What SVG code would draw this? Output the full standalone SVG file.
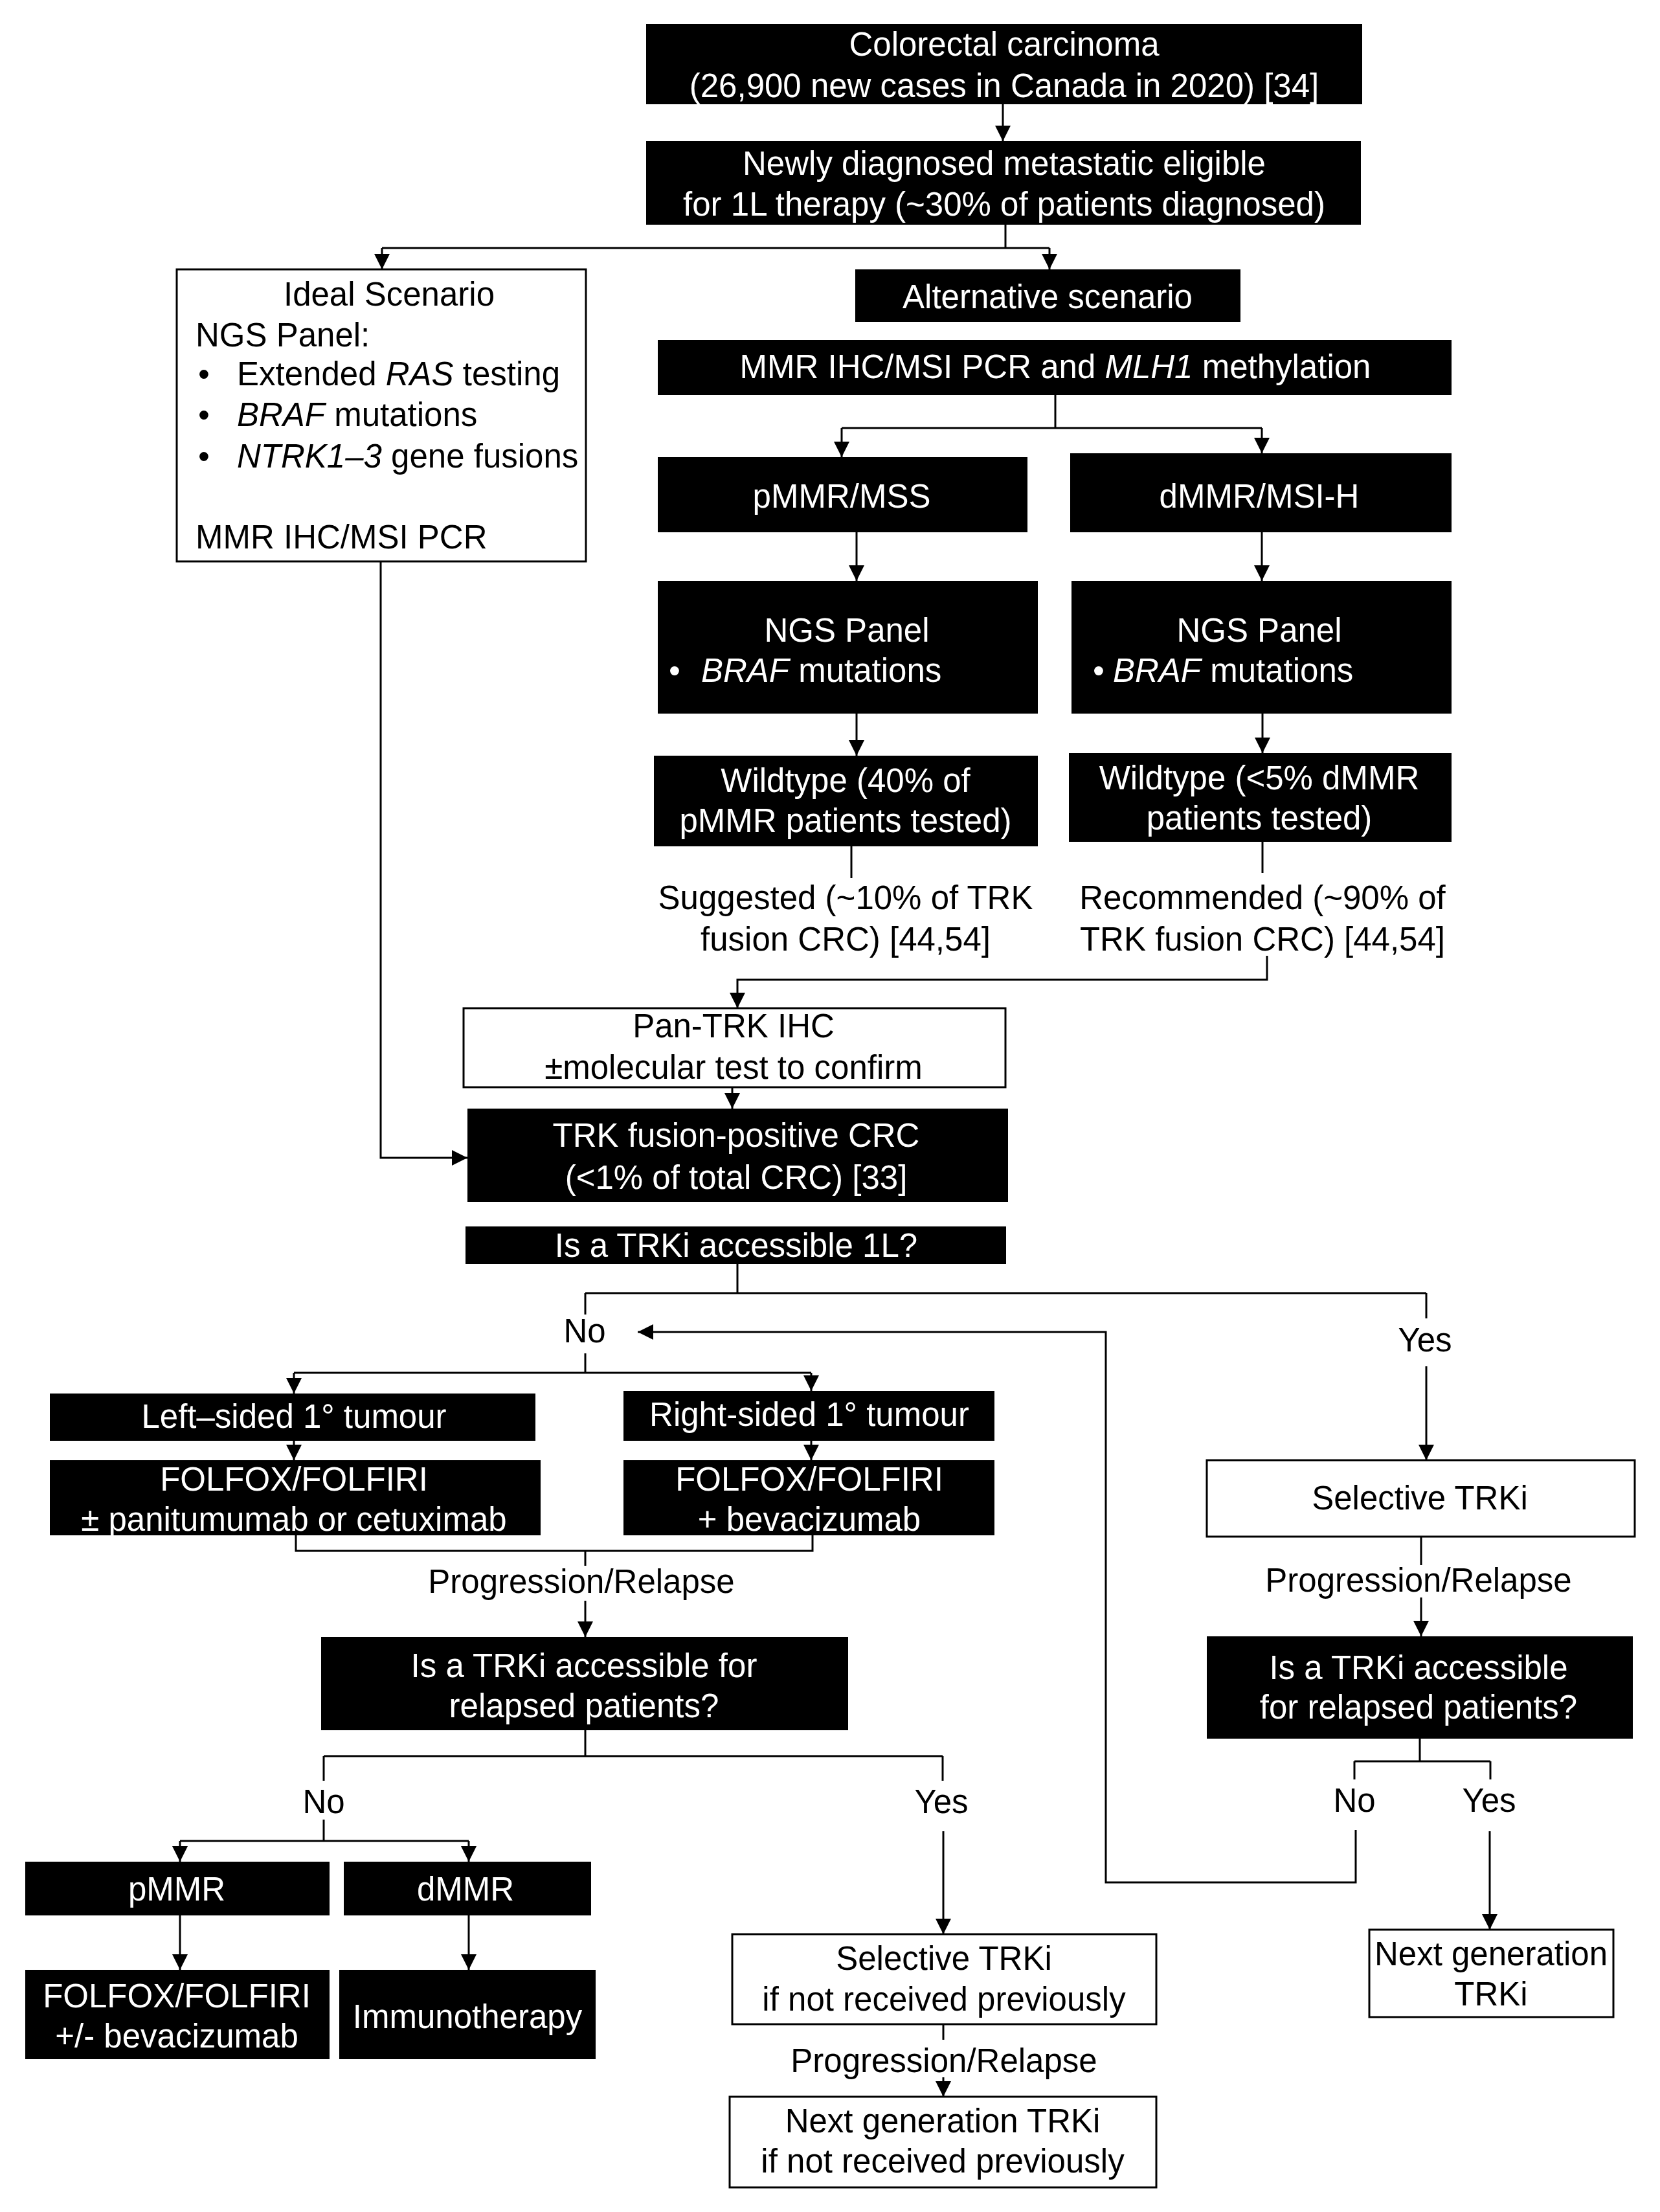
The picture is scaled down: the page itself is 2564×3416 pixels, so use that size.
<svg xmlns="http://www.w3.org/2000/svg" width="2564" height="3416" viewBox="0 0 2564 3416">
<style>
.b{fill:#000}
.w{fill:#fff;stroke:#000;stroke-width:3}
text{font-family:"Liberation Sans",Arial,sans-serif;font-size:51px}
.tw{fill:#fff;text-anchor:middle}
.tk{fill:#000;text-anchor:middle}
.tl{fill:#000;text-anchor:start}
.twl{fill:#fff;text-anchor:start}
.i{font-style:italic}
.c{fill:none;stroke:#000;stroke-width:3}
.a{fill:none;stroke:#000;stroke-width:3;marker-end:url(#ah)}
</style>
<defs>
<marker id="ah" viewBox="0 0 10 10" refX="10" refY="5" markerWidth="24" markerHeight="24" markerUnits="userSpaceOnUse" orient="auto"><path d="M0,0 L10,5 L0,10 z" fill="#000"/></marker>
</defs>
<rect width="2564" height="3416" fill="#fff"/>

<g id="connectors">
<path class="a" d="M1549,161 V218"/>
<path class="c" d="M1553,347 V383 M590,383 H1621"/>
<path class="a" d="M590,383 V416"/>
<path class="a" d="M1621,383 V416"/>
<path class="c" d="M1630,610 V661 M1300,661 H1949"/>
<path class="a" d="M1300,661 V706"/>
<path class="a" d="M1949,661 V700"/>
<path class="a" d="M1323,822 V897"/>
<path class="a" d="M1949,822 V897"/>
<path class="a" d="M1323,1102 V1167"/>
<path class="a" d="M1950,1102 V1163"/>
<path class="c" d="M1315,1307 V1356"/>
<path class="c" d="M1950,1300 V1348"/>
<path class="a" d="M1957,1476 V1513 H1139 V1557"/>
<path class="a" d="M1131,1679 V1712"/>
<path class="a" d="M588,867 V1788 H722"/>
<path class="c" d="M1139,1952 V1997 M904,1997 H2203 M904,1997 V2030 M2203,1997 V2036"/>
<path class="c" d="M904,2090 V2120 M454,2120 H1253"/>
<path class="a" d="M454,2120 V2152"/>
<path class="a" d="M1253,2120 V2148"/>
<path class="a" d="M454,2225 V2255"/>
<path class="a" d="M1253,2225 V2255"/>
<path class="c" d="M457,2371 V2395 H1255 V2371 M904,2395 V2418"/>
<path class="a" d="M904,2472 V2528"/>
<path class="c" d="M904,2672 V2712 M500,2712 H1456 M500,2712 V2750 M1456,2712 V2750"/>
<path class="c" d="M500,2810 V2843 M278,2843 H724"/>
<path class="a" d="M278,2843 V2875"/>
<path class="a" d="M724,2843 V2875"/>
<path class="a" d="M278,2958 V3042"/>
<path class="a" d="M724,2958 V3042"/>
<path class="a" d="M1457,2828 V2987"/>
<path class="c" d="M1457,3126 V3150"/>
<path class="a" d="M1457,3208 V3238"/>
<path class="a" d="M2203,2110 V2255"/>
<path class="c" d="M2195,2373 V2417"/>
<path class="a" d="M2195,2467 V2527"/>
<path class="c" d="M2193,2685 V2720 M2092,2720 H2302 M2092,2720 V2748 M2302,2720 V2748"/>
<path class="a" d="M2094,2826 V2907 H1708 V2057 H985"/>
<path class="a" d="M2301,2828 V2980"/>
</g>

<g id="n1"><rect class="b" x="998" y="37" width="1106" height="124"/>
<text class="tw" x="1551" y="86">Colorectal carcinoma</text>
<text class="tw" x="1551" y="150">(26,900 new cases in Canada in 2020) [34]</text></g>

<g id="n2"><rect class="b" x="998" y="218" width="1104" height="129"/>
<text class="tw" x="1551" y="270">Newly diagnosed metastatic eligible</text>
<text class="tw" x="1551" y="333">for 1L therapy (~30% of patients diagnosed)</text></g>

<g id="ideal"><rect class="w" x="273" y="416" width="632" height="451"/>
<text class="tk" x="601" y="472">Ideal  Scenario</text>
<text class="tl" x="302" y="535">NGS Panel:</text>
<text class="tl" x="306" y="595">•</text><text class="tl" x="366" y="595">Extended <tspan class="i">RAS</tspan> testing</text>
<text class="tl" x="306" y="658">•</text><text class="tl" x="366" y="658"><tspan class="i">BRAF</tspan> mutations</text>
<text class="tl" x="306" y="722">•</text><text class="tl" x="366" y="722"><tspan class="i">NTRK1–3</tspan> gene fusions</text>
<text class="tl" x="302" y="847">MMR IHC/MSI  PCR</text></g>

<g id="alt"><rect class="b" x="1321" y="416" width="595" height="81"/>
<text class="tw" x="1618" y="476">Alternative  scenario</text></g>

<g id="mmr"><rect class="b" x="1016" y="525" width="1226" height="85"/>
<text class="tw" x="1630" y="584">MMR IHC/MSI  PCR and <tspan class="i">MLH1</tspan> methylation</text></g>

<g id="pmmr-mss"><rect class="b" x="1016" y="706" width="571" height="116"/>
<text class="tw" x="1300" y="784">pMMR/MSS</text></g>

<g id="dmmr-msi"><rect class="b" x="1653" y="700" width="589" height="122"/>
<text class="tw" x="1945" y="784">dMMR/MSI-H</text></g>

<g id="ngs-left"><rect class="b" x="1016" y="897" width="587" height="205"/>
<text class="tw" x="1308" y="991">NGS  Panel</text>
<text class="twl" x="1033" y="1053">•</text><text class="twl" x="1083" y="1053"><tspan class="i">BRAF</tspan> mutations</text></g>

<g id="ngs-right"><rect class="b" x="1655" y="897" width="587" height="205"/>
<text class="tw" x="1945" y="991">NGS  Panel</text>
<text class="twl" x="1688" y="1053">•</text><text class="twl" x="1719" y="1053"><tspan class="i">BRAF</tspan> mutations</text></g>

<g id="wt-left"><rect class="b" x="1010" y="1167" width="593" height="140"/>
<text class="tw" x="1306" y="1223">Wildtype (40% of</text>
<text class="tw" x="1306" y="1285">pMMR  patients tested)</text></g>

<g id="wt-right"><rect class="b" x="1651" y="1163" width="591" height="137"/>
<text class="tw" x="1945" y="1219">Wildtype (&lt;5% dMMR</text>
<text class="tw" x="1945" y="1281">patients tested)</text></g>

<g id="lbl-suggested">
<text class="tk" x="1306" y="1404">Suggested (~10% of TRK</text>
<text class="tk" x="1306" y="1468">fusion CRC) [44,54]</text></g>

<g id="lbl-recommended">
<text class="tk" x="1950" y="1404">Recommended (~90% of</text>
<text class="tk" x="1950" y="1468">TRK fusion  CRC) [44,54]</text></g>

<g id="pantrk"><rect class="w" x="716" y="1557" width="837" height="122"/>
<text class="tk" x="1133" y="1602">Pan-TRK IHC</text>
<text class="tk" x="1133" y="1666">±molecular test to confirm</text></g>

<g id="trkpos"><rect class="b" x="722" y="1712" width="835" height="144"/>
<text class="tw" x="1137" y="1771">TRK fusion-positive CRC</text>
<text class="tw" x="1137" y="1836">(&lt;1% of total CRC) [33]</text></g>

<g id="q1l"><rect class="b" x="719" y="1894" width="835" height="58"/>
<text class="tw" x="1137" y="1941">Is a TRKi accessible 1L?</text></g>

<g id="lbl-no1"><text class="tk" x="903" y="2073">No</text></g>
<g id="lbl-yes1"><text class="tk" x="2201" y="2087">Yes</text></g>

<g id="left-sided"><rect class="b" x="77" y="2152" width="750" height="73"/>
<text class="tw" x="454" y="2205">Left–sided 1° tumour</text></g>

<g id="right-sided"><rect class="b" x="963" y="2148" width="573" height="77"/>
<text class="tw" x="1250" y="2202">Right-sided 1° tumour</text></g>

<g id="folfox-left"><rect class="b" x="77" y="2255" width="758" height="116"/>
<text class="tw" x="454" y="2302">FOLFOX/FOLFIRI</text>
<text class="tw" x="454" y="2364">± panitumumab or cetuximab</text></g>

<g id="folfox-right"><rect class="b" x="963" y="2255" width="573" height="116"/>
<text class="tw" x="1250" y="2302">FOLFOX/FOLFIRI</text>
<text class="tw" x="1250" y="2364">+ bevacizumab</text></g>

<g id="lbl-prog1"><text class="tk" x="898" y="2460">Progression/Relapse</text></g>

<g id="q-relapsed-left"><rect class="b" x="496" y="2528" width="814" height="144"/>
<text class="tw" x="902" y="2590">Is a TRKi accessible for</text>
<text class="tw" x="902" y="2652">relapsed patients?</text></g>

<g id="lbl-no2"><text class="tk" x="500" y="2800">No</text></g>
<g id="lbl-yes2"><text class="tk" x="1454" y="2800">Yes</text></g>

<g id="pmmr"><rect class="b" x="39" y="2875" width="470" height="83"/>
<text class="tw" x="273" y="2935">pMMR</text></g>

<g id="dmmr"><rect class="b" x="531" y="2875" width="382" height="83"/>
<text class="tw" x="719" y="2935">dMMR</text></g>

<g id="folfox-bev"><rect class="b" x="39" y="3042" width="470" height="138"/>
<text class="tw" x="273" y="3100">FOLFOX/FOLFIRI</text>
<text class="tw" x="273" y="3162">+/- bevacizumab</text></g>

<g id="immuno"><rect class="b" x="524" y="3042" width="396" height="138"/>
<text class="tw" x="722" y="3132">Immunotherapy</text></g>

<g id="sel-trki-mid"><rect class="w" x="1131" y="2987" width="655" height="139"/>
<text class="tk" x="1458" y="3042">Selective TRKi</text>
<text class="tk" x="1458" y="3105">if not received previously</text></g>

<g id="lbl-prog2"><text class="tk" x="1458" y="3200">Progression/Relapse</text></g>

<g id="nextgen-mid"><rect class="w" x="1127" y="3238" width="659" height="140"/>
<text class="tk" x="1456" y="3293">Next generation TRKi</text>
<text class="tk" x="1456" y="3355">if not received previously</text></g>

<g id="sel-trki-right"><rect class="w" x="1864" y="2255" width="661" height="118"/>
<text class="tk" x="2193" y="2331">Selective TRKi</text></g>

<g id="lbl-prog3"><text class="tk" x="2191" y="2458">Progression/Relapse</text></g>

<g id="q-relapsed-right"><rect class="b" x="1864" y="2527" width="658" height="158"/>
<text class="tw" x="2191" y="2593">Is a TRKi accessible</text>
<text class="tw" x="2191" y="2654">for relapsed patients?</text></g>

<g id="lbl-no3"><text class="tk" x="2092" y="2798">No</text></g>
<g id="lbl-yes3"><text class="tk" x="2300" y="2798">Yes</text></g>

<g id="nextgen-right"><rect class="w" x="2115" y="2980" width="377" height="135"/>
<text class="tk" x="2303" y="3035">Next generation</text>
<text class="tk" x="2303" y="3097">TRKi</text></g>
</svg>
